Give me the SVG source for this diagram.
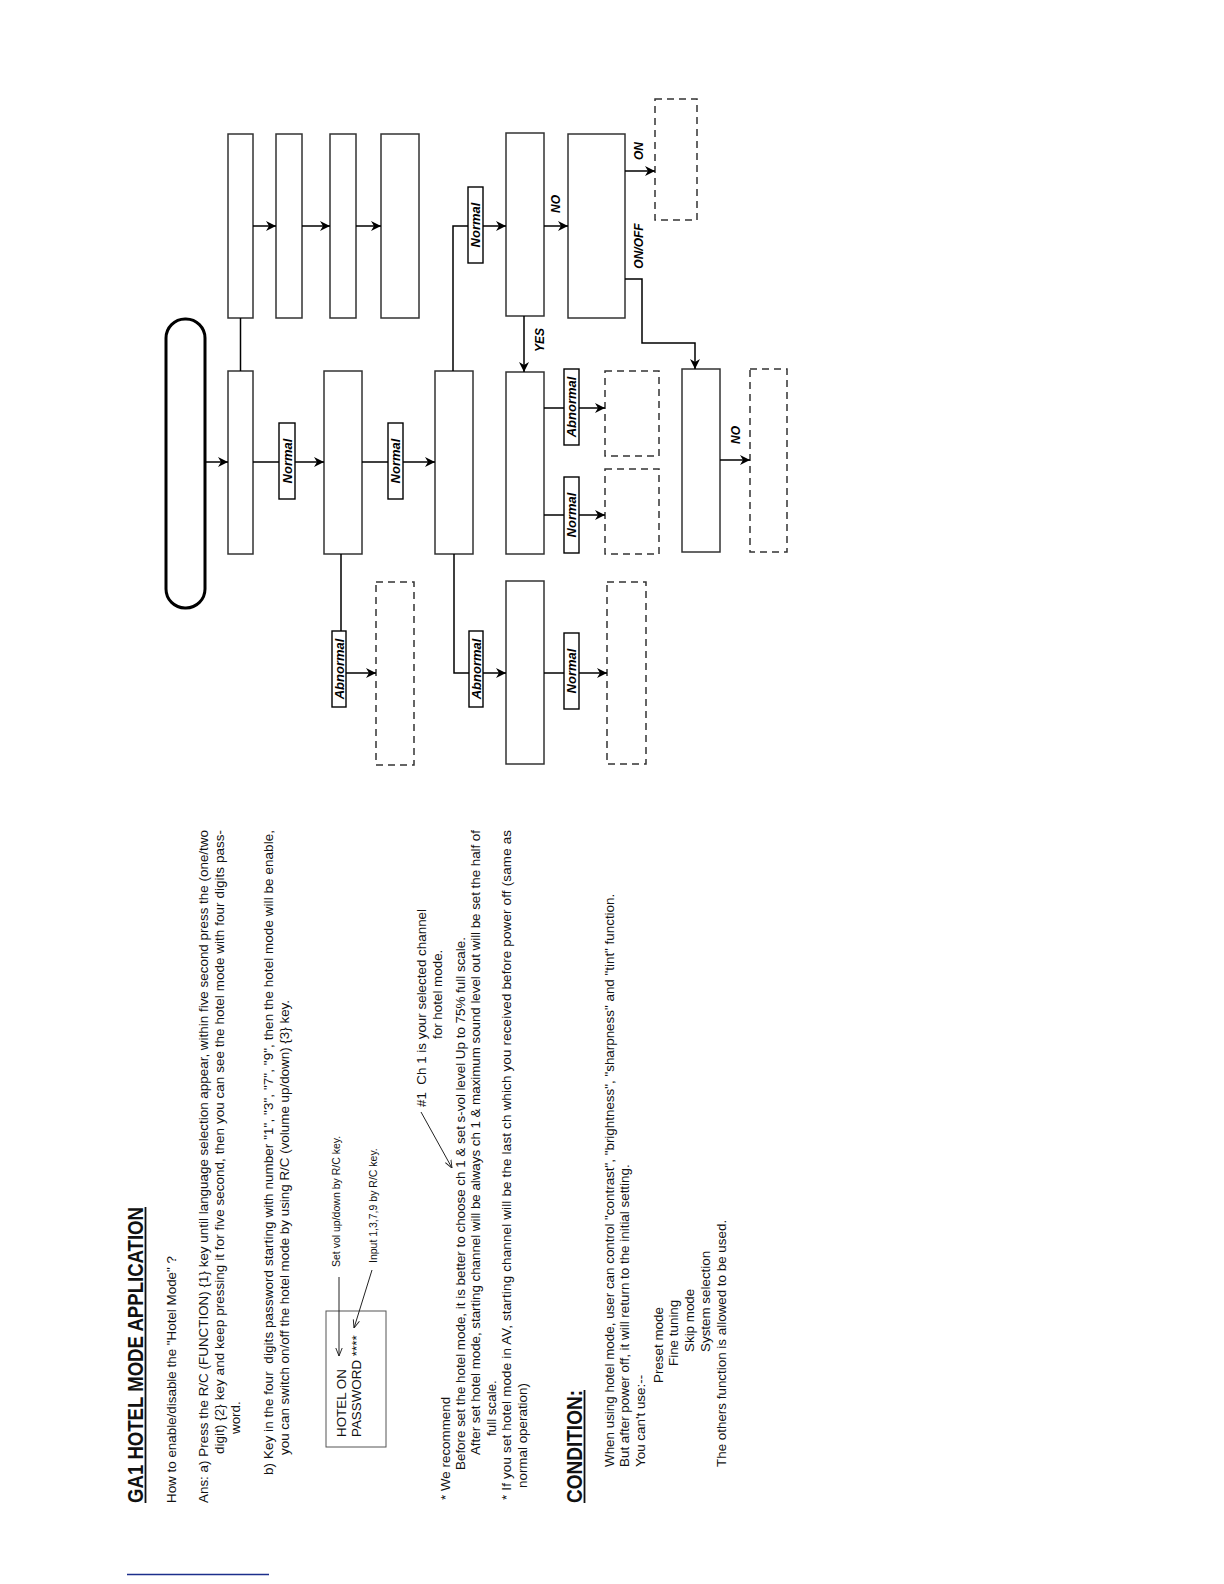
<svg xmlns="http://www.w3.org/2000/svg" width="1224" height="1584" viewBox="0 0 1224 1584">
<style>
.box{fill:#fff;stroke:#333;stroke-width:1.5}
.dash{fill:#fff;stroke:#333;stroke-width:1.5;stroke-dasharray:7 5}
.term{fill:#fff;stroke:#000;stroke-width:3}
.ln{fill:none;stroke:#000;stroke-width:1.5}
.lb{fill:#fff;stroke:#000;stroke-width:1.4}
.lt{font-family:"Liberation Sans",Arial,sans-serif;font-size:13px;font-weight:bold;font-style:italic;fill:#000;text-anchor:middle}
.yn{font-family:"Liberation Sans",Arial,sans-serif;font-size:12px;font-weight:bold;font-style:italic;fill:#000;text-anchor:middle}
.t{font-family:"Liberation Sans",Arial,sans-serif;font-size:13.4px;fill:#111}
.s{font-family:"Liberation Sans",Arial,sans-serif;font-size:10.5px;fill:#111}
.h{font-family:"Liberation Sans",Arial,sans-serif;font-size:22px;font-weight:bold;fill:#111}
</style>
<defs>
<marker id="ah" viewBox="0 0 10 10" refX="10" refY="5" markerWidth="10" markerHeight="10" markerUnits="userSpaceOnUse" orient="auto">
<path d="M0,0 L10,5 L0,10 L3,5 Z" fill="#000"/>
</marker>
<marker id="sa" viewBox="0 0 10 10" refX="10" refY="5" markerWidth="8" markerHeight="8" markerUnits="userSpaceOnUse" orient="auto">
<path d="M0,1 L10,5 L0,9" fill="none" stroke="#222" stroke-width="1.2"/>
</marker>
</defs>

<!-- Text page -->
<g id="text-page">
<text class="h" transform="translate(143,1503) rotate(-90)" textLength="296" lengthAdjust="spacingAndGlyphs">GA1 HOTEL MODE APPLICATION</text>
<line x1="145.5" y1="1503" x2="145.5" y2="1207" stroke="#111" stroke-width="1.8"/>
<text class="t" transform="translate(176,1503) rotate(-90)">How to enable/disable the "Hotel Mode" ?</text>
<text class="t" transform="translate(208,1503) rotate(-90)" textLength="673">Ans: a) Press the R/C (FUNCTION) {1} key until language selection appear, within five second press the (one/two</text>
<text class="t" transform="translate(224,1454) rotate(-90)" textLength="624">digit) {2} key and keep pressing it for five second, then you can see the hotel mode with four digits pass-</text>
<text class="t" transform="translate(240,1434) rotate(-90)">word.</text>
<text class="t" xml:space="preserve" transform="translate(273,1475) rotate(-90)" textLength="645">b) Key in the four  digits password starting with number "1", "3", "7", "9", then the hotel mode will be enable,</text>
<text class="t" transform="translate(289,1455) rotate(-90)">you can switch on/off the hotel mode by using R/C (volume up/down) {3} key.</text>

<g id="hotel-box">
<rect x="326" y="1311" width="60" height="136" fill="#fff" stroke="#555" stroke-width="1"/>
<text class="t" transform="translate(346,1437) rotate(-90)">HOTEL ON</text>
<text class="t" transform="translate(361,1437) rotate(-90)">PASSWORD ****</text>
</g>
<text class="s" transform="translate(340,1267) rotate(-90)">Set vol up/down by R/C key.</text>
<line x1="339" y1="1277" x2="339" y2="1356" stroke="#222" stroke-width="1" marker-end="url(#sa)"/>
<text class="s" transform="translate(377,1263) rotate(-90)">Input 1,3,7,9 by R/C key.</text>
<line x1="372" y1="1270" x2="354" y2="1328" stroke="#222" stroke-width="1" marker-end="url(#sa)"/>

<text class="t" xml:space="preserve" transform="translate(426,1107) rotate(-90)">#1  Ch 1 is your selected channel</text>
<text class="t" transform="translate(442,1039) rotate(-90)">for hotel mode.</text>
<line x1="421" y1="1112" x2="452" y2="1168" stroke="#222" stroke-width="1" marker-end="url(#sa)"/>

<text class="t" transform="translate(450,1500) rotate(-90)">* We recommend</text>
<text class="t" transform="translate(465,1470) rotate(-90)">Before set the hotel mode, it is better to choose ch 1 &amp; set s-vol level Up to 75% full scale.</text>
<text class="t" transform="translate(480,1455) rotate(-90)" textLength="625">After set hotel mode, starting channel will be always ch 1 &amp; maximum sound level out will be set the half of</text>
<text class="t" transform="translate(496,1436) rotate(-90)">full scale.</text>
<text class="t" transform="translate(511,1500) rotate(-90)" textLength="670">* If you set hotel mode in AV, starting channel will be the last ch which you received before power off (same as</text>
<text class="t" transform="translate(527,1488) rotate(-90)">normal operation)</text>

<text class="h" transform="translate(582,1503) rotate(-90)" textLength="113" lengthAdjust="spacingAndGlyphs">CONDITION:</text>
<line x1="584.5" y1="1503" x2="584.5" y2="1390" stroke="#111" stroke-width="1.8"/>
<text class="t" transform="translate(614,1467) rotate(-90)">When using hotel mode, user can control "contrast", "brightness", "sharpness" and "tint" function.</text>
<text class="t" transform="translate(629,1467) rotate(-90)">But after power off, it will return to the initial setting.</text>
<text class="t" transform="translate(645,1467) rotate(-90)">You can't use:--</text>
<text class="t" transform="translate(663,1383) rotate(-90)">Preset mode</text>
<text class="t" transform="translate(678,1366) rotate(-90)">Fine tuning</text>
<text class="t" transform="translate(694,1352) rotate(-90)">Skip mode</text>
<text class="t" transform="translate(710,1352) rotate(-90)">System selection</text>
<text class="t" transform="translate(726,1467) rotate(-90)">The others function is allowed to be used.</text>

<line x1="127" y1="1574.5" x2="269" y2="1574.5" stroke="#1c2f8c" stroke-width="1.5"/>
</g>

<!-- Flowchart nodes -->
<g id="n-start"><rect class="term" x="166" y="319" width="39" height="289" rx="19"/></g>
<g id="n-a"><rect class="box" x="228" y="371" width="25" height="183"/></g>
<g id="n-t1"><rect class="box" x="228" y="134" width="25" height="184"/></g>
<g id="n-t2"><rect class="box" x="276" y="134" width="26" height="184"/></g>
<g id="n-t3"><rect class="box" x="330" y="134" width="26" height="184"/></g>
<g id="n-t4"><rect class="box" x="381" y="134" width="38" height="184"/></g>
<g id="n-b"><rect class="box" x="324" y="371" width="38" height="183"/></g>
<g id="n-c"><rect class="box" x="435" y="371" width="38" height="183"/></g>
<g id="n-d"><rect class="box" x="506" y="133" width="38" height="183"/></g>
<g id="n-e"><rect class="box" x="568" y="134" width="57" height="184"/></g>
<g id="n-f"><rect class="dash" x="655" y="99" width="42" height="121"/></g>
<g id="n-g"><rect class="box" x="682" y="369" width="38" height="183"/></g>
<g id="n-h"><rect class="dash" x="750" y="369" width="37" height="183"/></g>
<g id="n-i"><rect class="box" x="506" y="372" width="38" height="182"/></g>
<g id="n-j"><rect class="dash" x="605" y="371" width="54" height="85"/></g>
<g id="n-k"><rect class="dash" x="605" y="469" width="54" height="85"/></g>
<g id="n-l"><rect class="dash" x="376" y="582" width="38" height="183"/></g>
<g id="n-m"><rect class="box" x="506" y="581" width="38" height="183"/></g>
<g id="n-n"><rect class="dash" x="607" y="582" width="39" height="182"/></g>

<!-- Connectors -->
<g id="connectors">
<line class="ln" x1="240.5" y1="318" x2="240.5" y2="371"/>
<line class="ln" x1="253" y1="226" x2="276" y2="226" marker-end="url(#ah)"/>
<line class="ln" x1="302" y1="226" x2="330" y2="226" marker-end="url(#ah)"/>
<line class="ln" x1="356" y1="226" x2="381" y2="226" marker-end="url(#ah)"/>
<line class="ln" x1="205" y1="462" x2="228" y2="462" marker-end="url(#ah)"/>
<line class="ln" x1="253" y1="462" x2="324" y2="462" marker-end="url(#ah)"/>
<line class="ln" x1="362" y1="462" x2="435" y2="462" marker-end="url(#ah)"/>
<polyline class="ln" points="453,371 453,226 506,226" marker-end="url(#ah)"/>
<line class="ln" x1="544" y1="226" x2="568" y2="226" marker-end="url(#ah)"/>
<line class="ln" x1="625" y1="171" x2="655" y2="171" marker-end="url(#ah)"/>
<polyline class="ln" points="625,279 642,279 642,343 695,343 695,369" marker-end="url(#ah)"/>
<line class="ln" x1="720" y1="460" x2="750" y2="460" marker-end="url(#ah)"/>
<line class="ln" x1="524" y1="316" x2="524" y2="372" marker-end="url(#ah)"/>
<line class="ln" x1="544" y1="408" x2="605" y2="408" marker-end="url(#ah)"/>
<line class="ln" x1="544" y1="515" x2="605" y2="515" marker-end="url(#ah)"/>
<polyline class="ln" points="341,554 341,673 376,673" marker-end="url(#ah)"/>
<polyline class="ln" points="454,554 454,673 506,673" marker-end="url(#ah)"/>
<line class="ln" x1="544" y1="673" x2="607" y2="673" marker-end="url(#ah)"/>

<g id="labels">
<rect class="lb" x="279" y="423" width="16" height="76"/>
<text class="lt" transform="translate(291.5,461) rotate(-90)">Normal</text>
<rect class="lb" x="388" y="423" width="15" height="76"/>
<text class="lt" transform="translate(400,461) rotate(-90)">Normal</text>
<rect class="lb" x="468" y="187" width="15" height="76"/>
<text class="lt" transform="translate(480,225) rotate(-90)">Normal</text>
<rect class="lb" x="564" y="369" width="15" height="76"/>
<text class="lt" transform="translate(576,407) rotate(-90)">Abnormal</text>
<rect class="lb" x="564" y="477" width="15" height="76"/>
<text class="lt" transform="translate(576,515) rotate(-90)">Normal</text>
<rect class="lb" x="332" y="631" width="14" height="76"/>
<text class="lt" transform="translate(343.5,669) rotate(-90)">Abnormal</text>
<rect class="lb" x="469" y="631" width="14" height="76"/>
<text class="lt" transform="translate(480.5,669) rotate(-90)">Abnormal</text>
<rect class="lb" x="564" y="633" width="15" height="76"/>
<text class="lt" transform="translate(576,671) rotate(-90)">Normal</text>
<text class="yn" transform="translate(560,204) rotate(-90)">NO</text>
<text class="yn" transform="translate(643,151) rotate(-90)">ON</text>
<text class="yn" transform="translate(643,246) rotate(-90)">ON/OFF</text>
<text class="yn" transform="translate(740,435) rotate(-90)">NO</text>
<text class="yn" transform="translate(544,340) rotate(-90)">YES</text>
</g>
</g>
</svg>
